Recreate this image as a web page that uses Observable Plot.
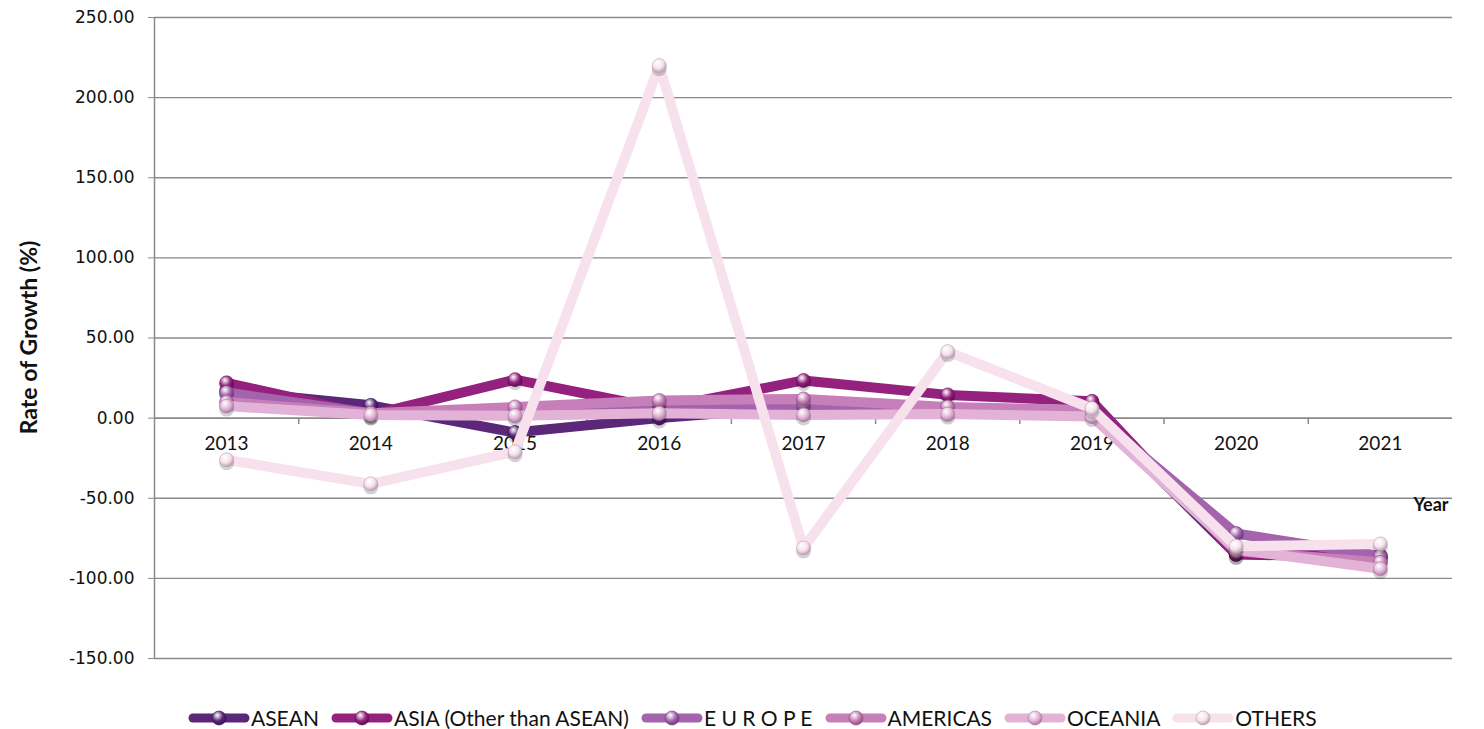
<!DOCTYPE html>
<html>
<head>
<meta charset="utf-8">
<script src="https://cdn.jsdelivr.net/npm/d3@7"></script>
<script src="https://cdn.jsdelivr.net/npm/@observablehq/plot@0.6"></script>
<style>
  html, body { margin: 0; padding: 0; background: #fff; }
  #chart { position: relative; width: 1484px; height: 729px; overflow: hidden; }
  #legend { position: absolute; left: 188px; top: 705px; display: flex; align-items: center; font-family: Lato, "Open Sans", sans-serif; font-size: 21px; color: #111; white-space: nowrap; }
  #legend .item { display: flex; align-items: center; margin-right: 12px; }
  #legend svg { display: block; margin-right: 1px; }
</style>
</head>
<body>
<div id="chart"></div>
<script>
const years = [2013, 2014, 2015, 2016, 2017, 2018, 2019, 2020, 2021];
const seriesNames = ["ASEAN", "ASIA (Other than ASEAN)", "E U R O P E", "AMERICAS", "OCEANIA", "OTHERS"];
const asean    = [17, 8, -9, 0, 7, 4, 4, -85, -87];
const asia     = [22, 2, 24, 6, 23.5, 14.5, 10.5, -85, -86];
const europe   = [16, 3, 3, 9, 8, 5, 3, -72, -86];
const americas = [10, 3, 7, 11, 12, 7, 5, -83, -90];
const oceania  = [7.5, 2, 1.5, 3, 2, 2.5, 1, -82, -94];
const others   = [-26, -41, -21, 220, -81, 41.5, 6, -80, -78.5];
const yTicks = [-150, -100, -50, 0, 50, 100, 150, 200, 250];
const colors = ["#5a2779", "#95217f", "#a363ad", "#c67fb8", "#e2b3d7", "#f6e1ec"];
const dark   = ["#3a1450", "#5e0f50", "#6f3a78", "#8d4f80", "#a97aa0", "#b9a0b0"];

const allValues = [asean, asia, europe, americas, oceania, others];
const data = [];
allValues.forEach((vals, si) => {
  vals.forEach((v, i) => data.push({series: seriesNames[si], idx: si, year: years[i], value: v}));
});
const boundaries = years.slice(0, -1).map(y => y + 0.5);
const gray = "#8a8a8a";

const marks = [
  Plot.gridY(yTicks, {stroke: gray, strokeOpacity: 1, strokeWidth: 1.3}),
  Plot.axisY(yTicks, {tickFormat: d => d.toFixed(2), tickSize: 6, stroke: gray, tickPadding: 14,
    fontSize: 17, fontFamily: "DejaVu Sans", fill: "#111", label: null}),
  Plot.ruleX([2012.5], {stroke: gray, strokeWidth: 1.5}),
  Plot.ruleY([0], {stroke: gray, strokeWidth: 1.5}),
  Plot.ruleX(boundaries, {x: d => d, y1: 0, y2: -4, stroke: gray, strokeWidth: 1.5}),
  Plot.text(years, {x: d => d, y: 0, dy: 26, text: d => String(d), fontSize: 19,
    fontFamily: "Lato", fill: "#111"}),
  Plot.text(["Year"], {x: 2021.5, y: -54.5, dx: -4, textAnchor: "end", fontWeight: "bold", fontSize: 18,
    fontFamily: "Lato", fill: "#111"}),
];
allValues.forEach((vals, si) => {
  const sub = data.filter(d => d.idx === si);
  marks.push(Plot.line(sub, {x: "year", y: "value", stroke: colors[si], strokeWidth: 10,
    strokeLinejoin: "round", strokeLinecap: "butt"}));
  marks.push(Plot.dot(sub, {x: "year", y: "value", r: 7.5, dy: 3, fill: "#000", fillOpacity: 0.18, stroke: "none"}));
  marks.push(Plot.dot(sub, {x: "year", y: "value", r: 7, fill: `url(#sph${si})`, stroke: dark[si], strokeWidth: 0.6}));
});

const plot = Plot.plot({
  width: 1484,
  height: 700,
  marginLeft: 154,
  marginRight: 32,
  marginTop: 17,
  marginBottom: 42,
  style: {background: "#fff", overflow: "visible", fontFamily: "DejaVu Sans"},
  x: {type: "linear", domain: [2012.5, 2021.5], axis: null},
  y: {domain: [-150, 250], axis: null},
  marks
});

function addDefs(svg) {
  const ns = "http://www.w3.org/2000/svg";
  const defs = document.createElementNS(ns, "defs");
  colors.forEach((c, i) => {
    const g = document.createElementNS(ns, "radialGradient");
    g.setAttribute("id", `sph${i}`);
    g.setAttribute("cx", "40%"); g.setAttribute("cy", "35%"); g.setAttribute("r", "65%");
    g.setAttribute("fx", "38%"); g.setAttribute("fy", "30%");
    [[0, "#ffffff"], [0.25, d3.interpolateRgb("#ffffff", c)(0.4)], [0.6, c], [1, dark[i]]].forEach(([o, col]) => {
      const s = document.createElementNS(ns, "stop");
      s.setAttribute("offset", o); s.setAttribute("stop-color", col);
      g.appendChild(s);
    });
    defs.appendChild(g);
  });
  svg.insertBefore(defs, svg.firstChild);
}
addDefs(plot);

const chart = document.getElementById("chart");
chart.appendChild(plot);

const ylab = document.createElementNS("http://www.w3.org/2000/svg", "text");
ylab.setAttribute("transform", "translate(37,337.5) rotate(-90)");
ylab.setAttribute("text-anchor", "middle");
ylab.setAttribute("font-family", "Lato, 'Open Sans', sans-serif");
ylab.setAttribute("font-weight", "bold");
ylab.setAttribute("font-size", "23");
ylab.setAttribute("fill", "#111");
ylab.textContent = "Rate of Growth (%)";
plot.appendChild(ylab);

const legend = document.createElement("div");
legend.id = "legend";
seriesNames.forEach((name, i) => {
  const item = document.createElement("div");
  item.className = "item";
  const sw = d3.create("svg").attr("width", 62).attr("height", 22);
  const defs = sw.append("defs");
  const g = defs.append("radialGradient").attr("id", `lg${i}`).attr("cx", "40%").attr("cy", "35%").attr("r", "65%")
    .attr("fx", "38%").attr("fy", "30%");
  [[0, "#ffffff"], [0.25, d3.interpolateRgb("#ffffff", colors[i])(0.4)], [0.6, colors[i]], [1, dark[i]]]
    .forEach(([o, col]) => g.append("stop").attr("offset", o).attr("stop-color", col));
  sw.append("line").attr("x1", 5).attr("x2", 57).attr("y1", 11).attr("y2", 11)
    .attr("stroke", colors[i]).attr("stroke-width", 9).attr("stroke-linecap", "round");
  sw.append("circle").attr("cx", 31).attr("cy", 11).attr("r", 7).attr("fill", `url(#lg${i})`)
    .attr("stroke", dark[i]).attr("stroke-width", 0.6);
  item.appendChild(sw.node());
  const t = document.createElement("span");
  t.textContent = name;
  item.appendChild(t);
  legend.appendChild(item);
});
chart.appendChild(legend);
</script>
</body>
</html>
